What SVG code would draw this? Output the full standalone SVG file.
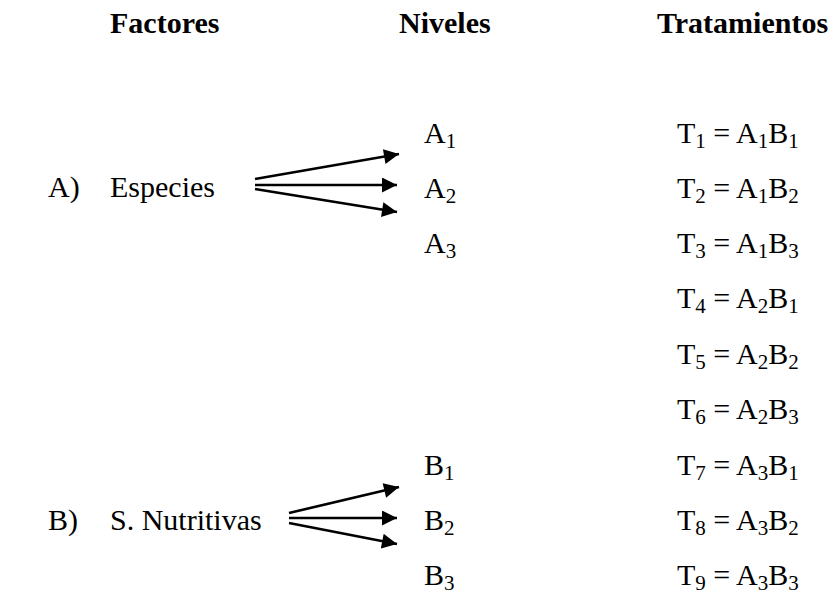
<svg xmlns="http://www.w3.org/2000/svg" width="833" height="595" viewBox="0 0 833 595">
<defs>
<style>
text{font-family:"Liberation Serif","Times New Roman",serif;font-size:30px;fill:#000}
.h{font-weight:bold}
.s{font-size:21px}
.c line{stroke:#000;stroke-width:2.6}
</style>
<marker id="ah" viewBox="0 0 10 10" refX="10" refY="5" markerWidth="16" markerHeight="15" markerUnits="userSpaceOnUse" orient="auto"><path d="M0,0L10,5L0,10z" fill="#000"/></marker>
</defs>
<rect width="833" height="595" fill="#fff"/>
<g id="headers">
<text class="h" x="110" y="33">Factores</text>
<text class="h" x="399" y="33">Niveles</text>
<text class="h" x="657" y="33">Tratamientos</text>
</g>
<g id="factorA">
<text x="48" y="197">A)</text>
<text x="110" y="197">Especies</text>
</g>
<g id="factorB">
<text x="48" y="530">B)</text>
<text x="110" y="530">S. Nutritivas</text>
</g>
<g id="nivelesA">
<text x="424" y="143">A<tspan class="s" dy="5">1</tspan></text>
<text x="424" y="198">A<tspan class="s" dy="5">2</tspan></text>
<text x="424" y="253">A<tspan class="s" dy="5">3</tspan></text>
</g>
<g id="nivelesB">
<text x="424" y="475">B<tspan class="s" dy="5">1</tspan></text>
<text x="424" y="530">B<tspan class="s" dy="5">2</tspan></text>
<text x="424" y="585">B<tspan class="s" dy="5">3</tspan></text>
</g>
<g id="tratamientos">
<text x="677" y="143">T<tspan class="s" dy="5">1</tspan><tspan dy="-5"> = A</tspan><tspan class="s" dy="5">1</tspan><tspan dy="-5">B</tspan><tspan class="s" dy="5">1</tspan></text>
<text x="677" y="198">T<tspan class="s" dy="5">2</tspan><tspan dy="-5"> = A</tspan><tspan class="s" dy="5">1</tspan><tspan dy="-5">B</tspan><tspan class="s" dy="5">2</tspan></text>
<text x="677" y="253">T<tspan class="s" dy="5">3</tspan><tspan dy="-5"> = A</tspan><tspan class="s" dy="5">1</tspan><tspan dy="-5">B</tspan><tspan class="s" dy="5">3</tspan></text>
<text x="677" y="308">T<tspan class="s" dy="5">4</tspan><tspan dy="-5"> = A</tspan><tspan class="s" dy="5">2</tspan><tspan dy="-5">B</tspan><tspan class="s" dy="5">1</tspan></text>
<text x="677" y="364">T<tspan class="s" dy="5">5</tspan><tspan dy="-5"> = A</tspan><tspan class="s" dy="5">2</tspan><tspan dy="-5">B</tspan><tspan class="s" dy="5">2</tspan></text>
<text x="677" y="419">T<tspan class="s" dy="5">6</tspan><tspan dy="-5"> = A</tspan><tspan class="s" dy="5">2</tspan><tspan dy="-5">B</tspan><tspan class="s" dy="5">3</tspan></text>
<text x="677" y="475">T<tspan class="s" dy="5">7</tspan><tspan dy="-5"> = A</tspan><tspan class="s" dy="5">3</tspan><tspan dy="-5">B</tspan><tspan class="s" dy="5">1</tspan></text>
<text x="677" y="530">T<tspan class="s" dy="5">8</tspan><tspan dy="-5"> = A</tspan><tspan class="s" dy="5">3</tspan><tspan dy="-5">B</tspan><tspan class="s" dy="5">2</tspan></text>
<text x="677" y="585">T<tspan class="s" dy="5">9</tspan><tspan dy="-5"> = A</tspan><tspan class="s" dy="5">3</tspan><tspan dy="-5">B</tspan><tspan class="s" dy="5">3</tspan></text>
</g>
<g id="connectors" class="c">
<line x1="255" y1="179" x2="399" y2="154" marker-end="url(#ah)"/>
<line x1="255" y1="185" x2="397" y2="185" marker-end="url(#ah)"/>
<line x1="255" y1="189" x2="397" y2="212" marker-end="url(#ah)"/>
<line x1="289" y1="513" x2="399" y2="487" marker-end="url(#ah)"/>
<line x1="289" y1="518" x2="397" y2="518" marker-end="url(#ah)"/>
<line x1="289" y1="523" x2="397" y2="544" marker-end="url(#ah)"/>
</g>
</svg>
